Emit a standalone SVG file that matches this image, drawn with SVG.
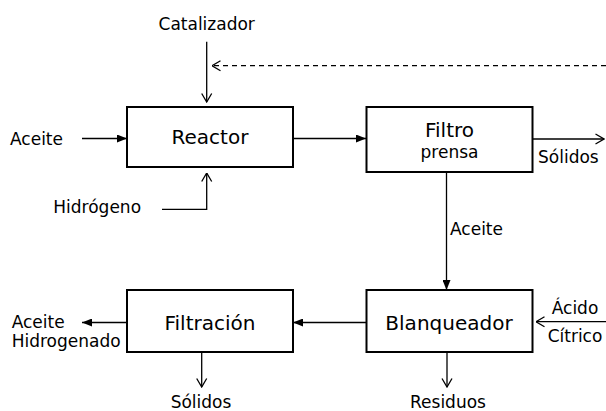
<svg xmlns="http://www.w3.org/2000/svg" width="606" height="411" viewBox="0 0 606 411">
<style>
text{font-family:"DejaVu Sans",Verdana,sans-serif;fill:#000}
.big{font-size:20px;text-anchor:middle}
.sm{font-size:17px}
.mid{text-anchor:middle}
.box{fill:#fff;stroke:#000;stroke-width:2}
.ln{fill:none;stroke:#000;stroke-width:1.3}
.fa{marker-end:url(#fill)}
.oa{marker-end:url(#open)}
.dash{stroke-dasharray:5,4}
</style>
<defs>
<marker id="fill" viewBox="0 0 10 8" refX="10" refY="4" markerWidth="10" markerHeight="8" markerUnits="userSpaceOnUse" orient="auto">
<path d="M0,0L10,4L0,8Z" fill="#000"/>
</marker>
<marker id="open" viewBox="0 0 10 12" refX="9.5" refY="6" markerWidth="10" markerHeight="12" markerUnits="userSpaceOnUse" orient="auto">
<path d="M1,1L9.5,6L1,11" fill="none" stroke="#000" stroke-width="1.3"/>
</marker>
</defs>
<g id="connectors">
<path class="ln oa" d="M206.7,41.7V102"/>
<path class="ln oa dash" d="M606,65.7H212"/>
<path class="ln fa" d="M82,138.5H127"/>
<path class="ln oa" d="M162,209.3H206.7V173"/>
<path class="ln fa" d="M293,138.5H366"/>
<path class="ln oa" d="M532,139H604"/>
<path class="ln fa" d="M446.5,172V290"/>
<path class="ln fa" d="M366,322.5H293"/>
<path class="ln fa" d="M127,322.5H82"/>
<path class="ln oa" d="M606,321.7H536"/>
<path class="ln oa" d="M201.7,352V387"/>
<path class="ln oa" d="M447,352V387"/>
</g>
<g id="reactor">
<rect class="box" x="127" y="107" width="166" height="60"/>
<text class="big" x="210" y="143.5">Reactor</text>
</g>
<g id="filtro-prensa">
<rect class="box" x="366.5" y="107" width="166" height="65"/>
<text class="big" x="449.5" y="136.7">Filtro</text>
<text class="sm mid" x="449.5" y="158.3">prensa</text>
</g>
<g id="blanqueador">
<rect class="box" x="366.5" y="290" width="166" height="62"/>
<text class="big" x="449" y="330">Blanqueador</text>
</g>
<g id="filtracion">
<rect class="box" x="127" y="290" width="166" height="62"/>
<text class="big" x="210" y="330">Filtración</text>
</g>
<g id="labels">
<text class="sm mid" x="206.7" y="30">Catalizador</text>
<text class="sm" x="10" y="145">Aceite</text>
<text class="sm" x="53.3" y="213">Hidrógeno</text>
<text class="sm" x="538" y="163.3">Sólidos</text>
<text class="sm" x="450" y="235">Aceite</text>
<text class="sm" x="11.7" y="328.3">Aceite</text>
<text class="sm" x="11.7" y="346.7">Hidrogenado</text>
<text class="sm mid" x="575" y="314">Ácido</text>
<text class="sm mid" x="575" y="341.7">Cítrico</text>
<text class="sm mid" x="201" y="408.3">Sólidos</text>
<text class="sm mid" x="448" y="408.3">Residuos</text>
</g>
</svg>
